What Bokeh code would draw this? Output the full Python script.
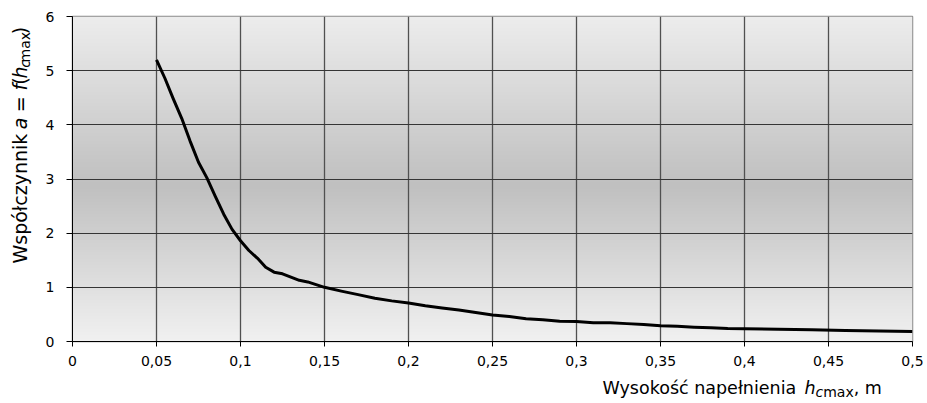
import numpy as np
from math import pi
from bokeh.plotting import figure
from bokeh.layouts import column, row
from bokeh.models import Range1d, FixedTicker, Label
from bokeh.embed import file_html
from bokeh.resources import INLINE

# Filling height h_cmax [m] and coefficient a = f(h_cmax)
h_cmax = [0.05, 0.055, 0.06, 0.065, 0.07, 0.075, 0.08, 0.085, 0.09, 0.095,
          0.1, 0.105, 0.11, 0.115, 0.12, 0.125, 0.13, 0.135, 0.14, 0.145,
          0.15, 0.16, 0.17, 0.18, 0.19, 0.2, 0.21, 0.22, 0.23, 0.24,
          0.25, 0.26, 0.27, 0.28, 0.29, 0.3, 0.31, 0.32, 0.33, 0.34,
          0.35, 0.36, 0.37, 0.38, 0.39, 0.4, 0.42, 0.44, 0.46, 0.48, 0.5]
coef_a = [5.2, 4.86, 4.48, 4.12, 3.70, 3.31, 3.02, 2.68, 2.35, 2.07,
          1.86, 1.68, 1.54, 1.37, 1.28, 1.25, 1.19, 1.13, 1.10, 1.05,
          1.0, 0.93, 0.865, 0.80, 0.75, 0.71, 0.66, 0.62, 0.58, 0.535,
          0.49, 0.46, 0.42, 0.40, 0.375, 0.37, 0.345, 0.345, 0.33, 0.315,
          0.29, 0.28, 0.265, 0.255, 0.24, 0.235, 0.225, 0.215, 0.205, 0.195, 0.185]

x_ticks = [0, 0.05, 0.1, 0.15, 0.2, 0.25, 0.3, 0.35, 0.4, 0.45, 0.5]
x_tick_labels = ["0", "0,05", "0,1", "0,15", "0,2", "0,25", "0,3", "0,35", "0,4", "0,45", "0,5"]
y_ticks = [0, 1, 2, 3, 4, 5, 6]

FONT = "DejaVu Sans"
W_TOTAL, H_TOTAL = 927, 403
Y_STRIP_W = 42      # strip on the left holding the rotated y title
MAIN_H = 372        # main chart height; the x title strip sits below it

# ---------------------------------------------------------------- main chart
p = figure(width=W_TOTAL - Y_STRIP_W, height=MAIN_H,
           output_backend="svg", toolbar_location=None,
           x_range=Range1d(0, 0.5), y_range=Range1d(0, 6),
           min_border_left=70 - Y_STRIP_W, min_border_right=15,
           min_border_top=16, min_border_bottom=MAIN_H - 341)
p.background_fill_color = "white"
p.border_fill_color = "white"
p.outline_line_color = "#8a8a8a"
p.outline_line_width = 1.5

# vertical grey gradient behind the plot area (light - dark - light)
n = 300
t = np.linspace(0, 1, n)
g = np.interp(t, [0.0, 0.48, 1.0], [241, 192, 237]).astype(np.uint8)
img = np.empty((n, 1), dtype=np.uint32)
view = img.view(dtype=np.uint8).reshape((n, 1, 4))
view[:, 0, 0] = g
view[:, 0, 1] = g
view[:, 0, 2] = g
view[:, 0, 3] = 255
p.image_rgba(image=[img], x=0, y=0, dw=0.5, dh=6, level="image")

p.line(h_cmax, coef_a, line_color="black", line_width=3, line_join="round")

for ax in (p.xaxis[0], p.yaxis[0]):
    ax.axis_line_color = "black"
    ax.axis_line_width = 1
    ax.major_tick_line_color = "black"
    ax.major_tick_in = 0
    ax.minor_tick_line_color = None
    ax.major_label_text_font = FONT
    ax.major_label_text_font_size = "14px"
    ax.major_label_text_color = "black"

p.xaxis.ticker = FixedTicker(ticks=x_ticks)
p.xaxis.major_label_overrides = dict(zip(x_ticks, x_tick_labels))
p.xaxis.major_tick_out = 5
p.xaxis.major_label_standoff = 9

p.yaxis.ticker = FixedTicker(ticks=y_ticks)
p.yaxis.major_tick_out = 6
p.yaxis.major_label_standoff = 12

p.xgrid.ticker = FixedTicker(ticks=x_ticks)
p.ygrid.ticker = FixedTicker(ticks=y_ticks)
p.xgrid.grid_line_color = "#505050"
p.xgrid.grid_line_width = 1.3
p.ygrid.grid_line_color = "#353535"
p.ygrid.grid_line_width = 1

# ------------------------------------------------------ axis title strips
# advance widths (em) of DejaVu Sans, used to lay out mixed-style titles
ADV = {" ": 0.318, "W": 0.989, "y": 0.592, "s": 0.521, "o": 0.612, "k": 0.579,
       "ś": 0.521, "ć": 0.550, "n": 0.634, "a": 0.613, "p": 0.635, "e": 0.615,
       "ł": 0.350, "i": 0.278, "ó": 0.612, "z": 0.525, "c": 0.550, "m": 0.974,
       "x": 0.592, ",": 0.318, "=": 0.838, "f": 0.352, "(": 0.390, ")": 0.390,
       "h": 0.634}
MID = 0.346  # distance (em) from the alphabetic baseline up to the em-box middle


def run_width(s, size):
    return sum(ADV.get(ch, 0.6) for ch in s) * size


def strip(width, height):
    f = figure(width=width, height=height, output_backend="svg",
               toolbar_location=None, x_range=Range1d(0, width),
               y_range=Range1d(0, height), x_axis_location=None,
               y_axis_location=None, min_border=0)
    f.grid.visible = False
    f.outline_line_color = None
    f.background_fill_color = "white"
    f.border_fill_color = "white"
    return f


def style_label(lab, size, style):
    lab.text_font = FONT
    lab.text_font_size = f"{size}px"
    lab.text_font_style = style
    lab.text_color = "black"


def add_x_title(fig, runs, x0, y0):
    pos = 0.0
    for text, size, style, shift, nudge in runs:
        if text.strip():
            lab = Label(x=x0 + pos + nudge, y=y0 + shift, text=text,
                        text_align="left", text_baseline="alphabetic")
            style_label(lab, size, style)
            fig.add_layout(lab)
        pos += run_width(text, size)


def add_y_title(fig, runs, xc, y0, main_size):
    # each run is centred on its own box, so the rotation pivot is its centre
    pos = 0.0
    for text, size, style, shift, nudge in runs:
        w = run_width(text, size)
        if text.strip():
            across = -shift + MID * (main_size - size)
            lab = Label(x=xc + across, y=y0 + pos + w / 2 + nudge, angle=pi / 2,
                        text=text, text_align="center", text_baseline="middle")
            style_label(lab, size, style)
            fig.add_layout(lab)
        pos += w


# (text, font size px, style, baseline shift px, extra advance px)
x_title = [("Wysokość napełnienia", 17.5, "normal", 0, 0),
           (" ", 19, "normal", 0, 0),
           ("h", 17.5, "italic", 0, 0),
           ("c", 14, "italic", -4, 0),
           ("max", 14, "normal", -4, 0),
           (",", 17.5, "normal", 0, 0),
           (" ", 17.5, "normal", 0, 0),
           ("m", 17.5, "normal", 0, 0)]
y_title = [("Współczynnik", 19, "normal", 0, -7),
           (" ", 24, "normal", 0, 0),
           ("a", 19, "italic", 0, 0),
           (" ", 26, "normal", 0, 0),
           ("=", 19, "normal", 0, 0),
           (" ", 26, "normal", 0, 0),
           ("f", 19, "italic", 0, 0),
           ("(", 19, "normal", 0, 0),
           ("h", 19, "italic", 0, 0),
           ("c", 14, "italic", -4, 0),
           ("max", 14, "normal", -4, 0),
           (")", 19, "normal", 0, 0)]

xs = strip(W_TOTAL, H_TOTAL - MAIN_H)
add_x_title(xs, x_title, 602, H_TOTAL - 387)

ys = strip(Y_STRIP_W, MAIN_H)
add_y_title(ys, y_title, 19, MAIN_H - 267, 19)

layout = column(row(ys, p), xs)
open("out.html", "w", encoding="utf-8").write(file_html(layout, INLINE))
